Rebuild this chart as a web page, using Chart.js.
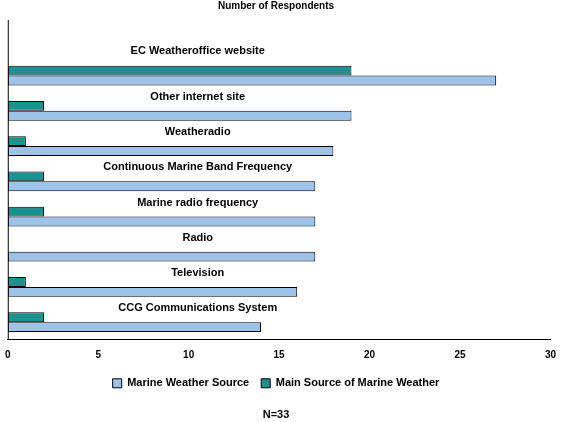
<!DOCTYPE html>
<html><head><style>html,body{margin:0;padding:0;background:#fff}#w{width:561px;height:422px}</style>
<script src="https://cdn.jsdelivr.net/npm/chart.js@4"></script></head>
<body><div id="w"><canvas id="c"></canvas></div>
<script>
const categories=["EC Weatheroffice website","Other internet site","Weatheradio","Continuous Marine Band Frequency","Marine radio frequency","Radio","Television","CCG Communications System"];
const mainSource=[19,2,1,2,2,0,1,2];
const marineSource=[27,19,18,17,17,17,16,14];
const xTicks=[0,5,10,15,20,25,30];
const F="'Liberation Sans', Arial, sans-serif";
const labelPlugin={id:'lbl',afterDatasetsDraw(ch){
  const ctx=ch.ctx,meta=ch.getDatasetMeta(0),x=ch.scales.x,a=ch.chartArea;
  ctx.save();
  ctx.strokeStyle='#000';ctx.lineWidth=1;ctx.beginPath();ctx.moveTo(a.left+0.5,20);ctx.lineTo(a.left+0.5,a.bottom);ctx.stroke();
  ctx.font="bold 11px "+F;ctx.fillStyle="#000";ctx.textAlign="center";ctx.textBaseline="middle";
  meta.data.forEach((b,i)=>ctx.fillText(categories[i],x.getPixelForValue(10.5),b.y-(i===0?20:9)));
  ctx.restore();}};
new Chart(document.getElementById('c'),{type:'bar',
 data:{labels:categories,datasets:[
  {label:'Main Source of Marine Weather',data:mainSource,backgroundColor:'#1f9090',borderColor:'#000',borderWidth:1,borderSkipped:false},
  {label:'Marine Weather Source',data:marineSource,backgroundColor:'#9ec3ea',borderColor:'#000',borderWidth:1,borderSkipped:false}]},
 options:{indexAxis:'y',responsive:true,maintainAspectRatio:false,animation:false,
  datasets:{bar:{categoryPercentage:0.56,barPercentage:1}},
  layout:{padding:{left:0,right:9,top:0,bottom:0}},
  scales:{
   x:{min:0,max:30,afterBuildTicks(s){s.ticks=xTicks.map(v=>({value:v}));},grid:{display:false,drawTicks:true,tickLength:4},border:{color:'#000'},ticks:{color:'#000',font:{family:F,size:10,weight:'bold'},padding:5}},
   y:{display:false}},
  plugins:{tooltip:{enabled:false},
   title:{display:true,text:'Number of Respondents',color:'#000',font:{family:F,size:10,weight:'bold'},padding:{top:0,bottom:46}},
   subtitle:{display:true,position:'bottom',text:'N=33',color:'#000',font:{family:F,size:11,weight:'bold'},padding:{top:10,bottom:0}},
   legend:{position:'bottom',labels:{color:'#000',font:{family:F,size:11,weight:'bold'},boxWidth:9,boxHeight:9,padding:12,
     sort:(a,b)=>b.datasetIndex-a.datasetIndex}}}},
 plugins:[labelPlugin]});
</script></body></html>
